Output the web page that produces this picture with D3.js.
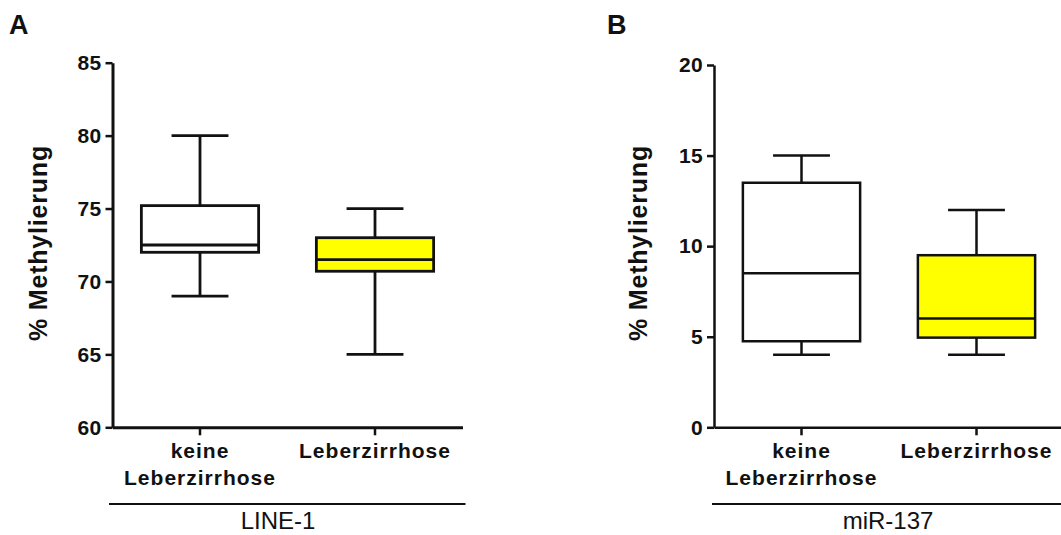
<!DOCTYPE html>
<html>
<head>
<meta charset="utf-8">
<script src="https://cdn.jsdelivr.net/npm/d3@7"></script>
<style>
  body { margin: 0; background: #fff; }
  svg { font-family: "Liberation Sans", Arial, sans-serif; }
</style>
</head>
<body>
<svg id="chart" width="1061" height="535"></svg>
<script>
// categories
const groups = ["keine Leberzirrhose", "Leberzirrhose"]
const groupLines = [["keine", "Leberzirrhose"], ["Leberzirrhose"]]
const boxFill = ["#ffffff", "#ffff00"]

// panel A: LINE-1
const line1Max = [80, 75]
const line1Q3 = [75.2, 73]
const line1Median = [72.5, 71.5]
const line1Q1 = [72, 70.7]
const line1Min = [69, 65]
const line1Ticks = [60, 65, 70, 75, 80, 85]

// panel B: miR-137
const mirMax = [15, 12]
const mirQ3 = [13.5, 9.5]
const mirMedian = [8.5, 6]
const mirQ1 = [4.75, 4.95]
const mirMin = [4, 4]
const mirTicks = [0, 5, 10, 15, 20]

const svg = d3.select("#chart")

function drawPanel(cfg) {
    let top = cfg.top, bottom = 427.3

    let y = d3.scaleLinear().domain(cfg.domain).range([bottom, top])
    let x = d3.scaleBand().domain(groups).range([cfg.left, cfg.left + 350]).padding(0)

    let g = svg.append("g")

    // panel letter
    g.append("text")
        .attr("x", cfg.letterX).attr("y", 34)
        .attr("font-size", 27).attr("font-weight", "bold").attr("fill", "#111")
        .text(cfg.letter)

    // y axis
    let yAxis = g.append("g")
        .attr("transform", `translate(${cfg.left},0)`)
        .call(d3.axisLeft(y).tickValues(cfg.ticks).tickSize(7).tickSizeOuter(0).tickPadding(4))
    yAxis.select(".domain").attr("stroke-width", cfg.axisWidth).attr("stroke", "#111")
    yAxis.selectAll(".tick line").attr("stroke-width", 2.5).attr("stroke", "#111")
    yAxis.selectAll(".tick text")
        .attr("font-size", 21).attr("font-weight", "bold").attr("fill", "#111")
        .attr("letter-spacing", 0.3)
        .attr("font-family", "Liberation Sans, Arial, sans-serif")

    // x axis
    let xAxis = g.append("g")
        .attr("transform", `translate(0,${bottom})`)
        .call(d3.axisBottom(x).tickSize(8).tickSizeOuter(0).tickFormat(""))
    xAxis.select(".domain").attr("stroke-width", cfg.axisWidth).attr("stroke", "#111")
    xAxis.selectAll(".tick line").attr("stroke-width", 2.5).attr("stroke", "#111")

    // category labels
    groups.forEach((grp, i) => {
        let cx = x(grp) + x.bandwidth() / 2
        groupLines[i].forEach((ln, j) => {
            g.append("text")
                .attr("x", cx).attr("y", 458 + j * 27)
                .attr("text-anchor", "middle")
                .attr("font-size", 21).attr("font-weight", "bold").attr("fill", "#111")
                .attr("letter-spacing", 1)
                .text(ln)
        })
    })

    // y title
    g.append("text")
        .attr("transform", `translate(${cfg.titleX},243) rotate(-90)`)
        .attr("text-anchor", "middle")
        .attr("font-size", 25).attr("font-weight", "bold").attr("fill", "#111")
        .attr("letter-spacing", 0.8)
        .text("% Methylierung")

    // boxes
    let boxW = x.bandwidth() * 0.67
    let capW = x.bandwidth() * 0.325
    groups.forEach((grp, i) => {
        let cx = x(grp) + x.bandwidth() / 2
        // whiskers
        g.append("line")
            .attr("x1", cx).attr("x2", cx)
            .attr("y1", y(cfg.max[i])).attr("y2", y(cfg.min[i]))
            .attr("stroke", "#111").attr("stroke-width", cfg.lineWidth)
        ;[cfg.max[i], cfg.min[i]].forEach(v => {
            g.append("line")
                .attr("x1", cx - capW / 2).attr("x2", cx + capW / 2)
                .attr("y1", y(v)).attr("y2", y(v))
                .attr("stroke", "#111").attr("stroke-width", cfg.lineWidth)
        })
        g.append("rect")
            .attr("x", cx - boxW / 2).attr("width", boxW)
            .attr("y", y(cfg.q3[i])).attr("height", y(cfg.q1[i]) - y(cfg.q3[i]))
            .attr("fill", boxFill[i])
            .attr("stroke", "#111").attr("stroke-width", cfg.lineWidth)
        g.append("line")
            .attr("x1", cx - boxW / 2).attr("x2", cx + boxW / 2)
            .attr("y1", y(cfg.median[i])).attr("y2", y(cfg.median[i]))
            .attr("stroke", "#111").attr("stroke-width", cfg.lineWidth)
    })

    // group bracket line and label
    g.append("line")
        .attr("x1", cfg.bracket[0]).attr("x2", cfg.bracket[1])
        .attr("y1", 504).attr("y2", 504)
        .attr("stroke", "#111").attr("stroke-width", 2.2)
    g.append("text")
        .attr("x", cfg.labelX).attr("y", 529)
        .attr("text-anchor", "middle")
        .attr("font-size", 24).attr("fill", "#111")
        .text(cfg.label)
}

drawPanel({
    letter: "A", letterX: 9, left: 112.5, top: 62.7, domain: [60, 85], ticks: line1Ticks,
    max: line1Max, q3: line1Q3, median: line1Median, q1: line1Q1, min: line1Min,
    titleX: 47, axisWidth: 3, lineWidth: 2.8,
    bracket: [109, 465.5], label: "LINE-1", labelX: 278
})

drawPanel({
    letter: "B", letterX: 607, left: 714, top: 65, domain: [0, 20], ticks: mirTicks,
    max: mirMax, q3: mirQ3, median: mirMedian, q1: mirQ1, min: mirMin,
    titleX: 647, axisWidth: 2.5, lineWidth: 2.5,
    bracket: [712, 1061], label: "miR-137", labelX: 888
})
</script>
</body>
</html>
